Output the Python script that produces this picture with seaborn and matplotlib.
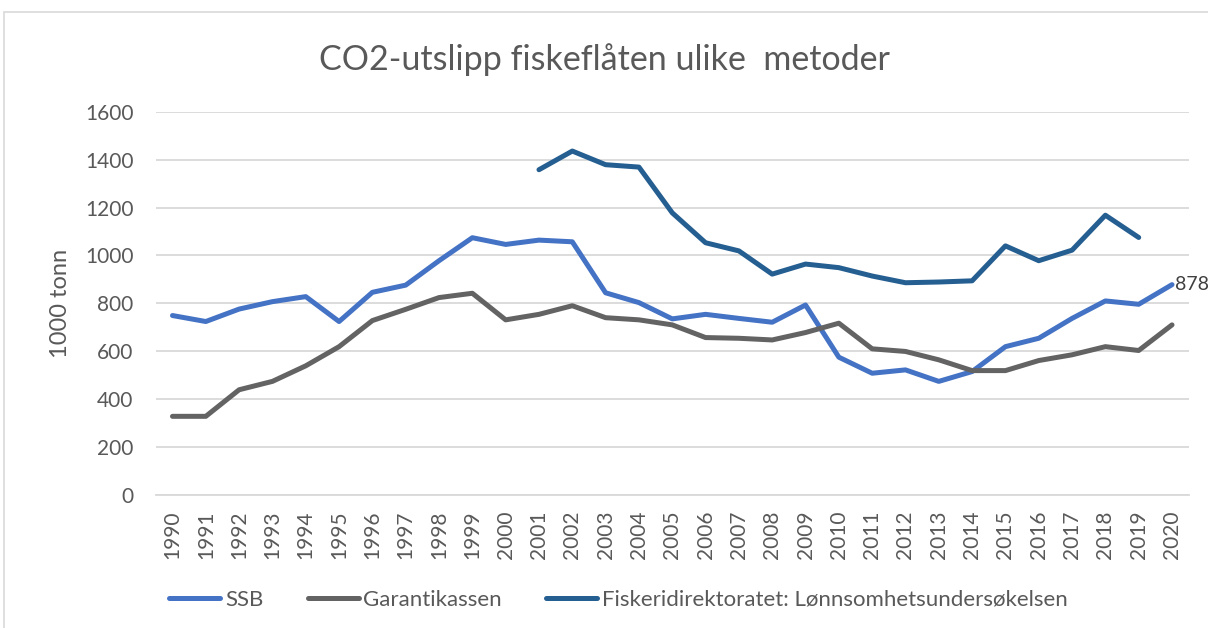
import numpy as np
import pandas as pd
import matplotlib
matplotlib.use("Agg")
import matplotlib.pyplot as plt
import seaborn as sns
from matplotlib.lines import Line2D
from matplotlib.patches import Rectangle

years = list(range(1990, 2021))
ssb = [749, 724, 776, 807, 828, 724, 846, 876, 978, 1074, 1046, 1064, 1057, 844, 803,
       735, 754, 737, 721, 793, 575, 508, 522, 474, 515, 619, 654, 737, 810, 796, 878]
garanti = [328, 328, 439, 474, 539, 619, 728, 775, 824, 842, 731, 754, 790, 740, 731,
           710, 657, 654, 647, 678, 717, 610, 599, 564, 519, 519, 561, 585, 619, 603, 710]
fiskdir = [np.nan] * 11 + [1358, 1436, 1379, 1369, 1178, 1053, 1019, 922, 964, 949, 914,
                           886, 889, 894, 1040, 978, 1022, 1168, 1075, np.nan]
series_names = ["SSB", "Garantikassen", "Fiskeridirektoratet: Lønnsomhetsundersøkelsen"]
colors = ["#4472C4", "#636363", "#255E91"]
yticks = [0, 200, 400, 600, 800, 1000, 1200, 1400, 1600]
title = "CO2-utslipp fiskeflåten ulike  metoder"
ylabel = "1000 tonn"

sns.set_style("white")
plt.rcParams["font.family"] = ["Lato", "DejaVu Sans"]

df = pd.DataFrame({"year": years * 3,
                   "value": ssb + garanti + fiskdir,
                   "serie": [series_names[0]] * 31 + [series_names[1]] * 31 + [series_names[2]] * 31})

fig = plt.figure(figsize=(12.08, 6.28), dpi=100)
ax = fig.add_axes([0.129, 0.212, 0.855, 0.610])

sns.lineplot(data=df, x="year", y="value", hue="serie", palette=colors,
             linewidth=3.6, ax=ax, legend=False, solid_capstyle="round")

ax.set_xlim(1989.5, 2020.5)
ax.set_ylim(0, 1600)
ax.set_yticks(yticks)
ax.set_yticklabels([str(v) for v in yticks], fontsize=15, color="#595959")
ax.set_xticks(years)
ax.set_xticklabels([str(y) for y in years], rotation=90, fontsize=15, color="#595959")
ax.tick_params(axis="y", length=0, pad=16)
ax.tick_params(axis="x", length=0, pad=11)
ax.grid(axis="y", color="#D9D9D9", linewidth=1.3)
ax.set_axisbelow(True)
for s in ["top", "right", "left"]:
    ax.spines[s].set_visible(False)
ax.spines["bottom"].set_color("#D9D9D9")
ax.spines["bottom"].set_linewidth(1.3)
ax.set_xlabel("")
ax.set_ylabel(ylabel, fontsize=17, color="#595959", labelpad=10)

ax.annotate(str(ssb[-1]), xy=(years[-1], ssb[-1]), xytext=(2, 0), textcoords="offset points",
            fontsize=14, color="#404040", va="center", ha="left", annotation_clip=False)

fig.text(0.5, 0.905, title, ha="center", va="center", fontsize=24.5, color="#595959")

handles = [Line2D([0], [0], color=c, linewidth=3.6, solid_capstyle="round") for c in colors]
fig.legend(handles, series_names, loc="center", bbox_to_anchor=(0.512, 0.045), ncol=3,
           frameon=False, fontsize=16, handlelength=2.3, handletextpad=0.2,
           columnspacing=2.0, labelcolor="#595959")

fig.patches.append(Rectangle((4 / 1208, -0.1), 1.2, 1 - 12 / 628 + 0.1, transform=fig.transFigure,
                             fill=False, edgecolor="#D9D9D9", linewidth=1.2))

fig.savefig("out.png", dpi=100)
